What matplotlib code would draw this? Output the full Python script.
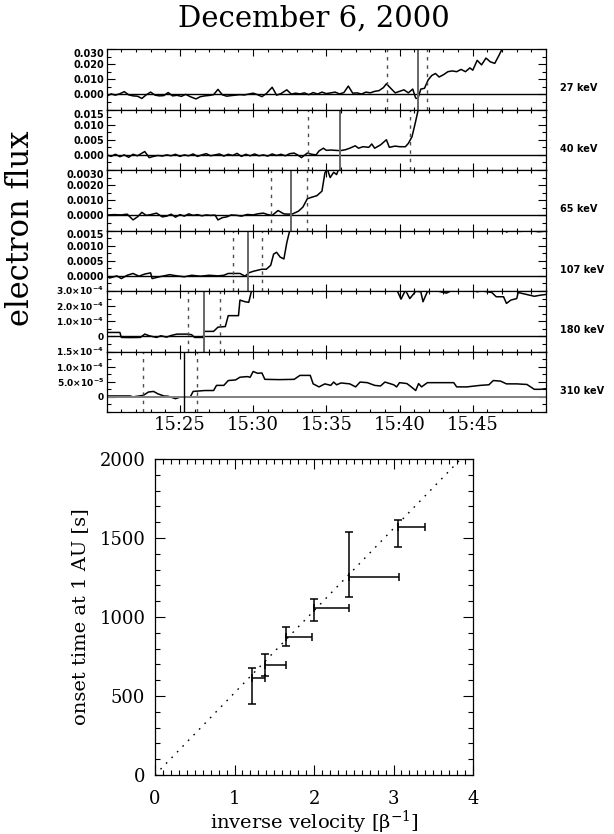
"""Electron onset analysis, December 6, 2000.

Stacked electron flux time profiles (six energy channels) with onset
markers, and the onset time vs inverse velocity plot below.
"""

import numpy as np
import matplotlib
matplotlib.use("Agg")
import matplotlib.pyplot as plt
from matplotlib.ticker import MultipleLocator

plt.rcParams["mathtext.fontset"] = "dejavusans"
plt.rcParams["mathtext.default"] = "regular"

# ---- top panels: minutes after 15:00 and flux values ----
channels = ["27 keV", "40 keV", "65 keV", "107 keV", "180 keV", "310 keV"]

t_27 = [20.0, 20.3, 20.6, 20.9, 21.2, 21.5, 21.8, 22.1, 22.4, 22.7, 23.0, 23.3, 23.6, 23.9,
        24.2, 24.5, 24.8, 25.1, 25.4, 25.7, 26.1, 26.4, 26.7, 27.0, 27.3, 27.6, 27.9, 28.2,
        28.5, 28.8, 29.1, 29.4, 29.7, 30.0, 30.3, 30.6, 30.9, 31.3, 31.6, 31.9, 32.3, 32.6,
        32.9, 33.2, 33.5, 33.8, 34.1, 34.4, 34.7, 35.0, 35.3, 35.6, 35.9, 36.2, 36.5, 36.8,
        37.1, 37.4, 37.7, 38.0, 38.3, 38.6, 38.9, 39.1, 39.4, 39.7, 40.0, 40.3, 40.6, 40.9,
        41.1, 41.25, 41.45, 41.7, 41.95, 42.2, 42.45, 42.7, 43.0, 43.3, 43.6, 43.9, 44.2,
        44.5, 44.8, 45.0, 45.3, 45.6, 45.9, 46.2, 46.5, 46.8, 47.1, 47.6, 48.0, 49.0, 50.0]
f_27 = [-1.2, 0.3, -0.5, 0.4, 1.8, -0.3, -1.0, -1.2, -2.7, -0.3, 1.5, -0.5, -1.0, -0.8,
        1.2, -1.0, -0.6, -1.3, 0.0, -1.5, -3.0, -1.5, -1.0, -0.7, -0.2, 3.3, -0.3, -1.2,
        -0.8, -0.5, -0.2, -0.4, 0.2, 0.8, -0.2, -1.5, 0.5, 4.7, -0.5, 0.5, 3.0, 0.2,
        0.8, 0.3, 1.0, -0.2, 1.2, 0.2, 1.5, 0.5, 1.0, 1.5, 0.3, 1.2, 5.5, 0.8,
        1.0, 0.2, 1.5, 1.0, 2.0, 2.5, 4.5, 7.0, 4.0, 1.0, 2.0, 3.0, 1.0, 3.5,
        -2.5, -2.8, 3.5, 4.0, 9.5, 12.5, 13.8, 11.5, 13.0, 15.0, 15.5, 15.0, 16.5,
        15.0, 17.5, 16.0, 22.5, 19.5, 24.0, 21.5, 20.5, 26.0, 32.0, 36.0, 40.0, 45.0, 50.0]

t_40 = [20.0, 20.3, 20.6, 20.9, 21.2, 21.5, 21.8, 22.1, 22.6, 22.9, 23.2, 23.5, 23.8, 24.1,
        24.4, 24.7, 25.0, 25.3, 25.6, 25.9, 26.2, 26.5, 26.8, 27.1, 27.4, 27.7, 28.0, 28.3,
        28.6, 28.9, 29.2, 29.5, 29.8, 30.1, 30.4, 30.7, 31.0, 31.3, 31.6, 31.9, 32.2, 32.5,
        32.8, 33.1, 33.3, 33.7, 34.0, 34.3, 34.5, 34.8, 35.0, 35.3, 35.6, 35.95, 36.3, 36.6,
        36.97, 37.2, 37.5, 37.9, 38.1, 38.3, 38.7, 39.1, 39.3, 39.7, 40.0, 40.4, 40.6, 40.85,
        41.07, 41.3, 41.6, 42.5, 50.0]
f_40 = [0.0, -0.5, 0.2, -0.6, 0.0, -0.8, 0.2, -0.3, 1.1, -0.9, -0.5, -0.2, -0.4, 0.0,
        -0.3, 0.2, -0.5, 0.0, -0.3, 0.3, -0.5, 0.0, 0.4, -0.3, 0.0, 0.3, -0.4, 0.2,
        -0.2, 0.5, -0.5, 0.2, -0.3, 0.3, -0.3, 0.0, -0.4, 0.3, -0.2, 0.2, -0.3, 0.4,
        0.6, -0.2, -0.9, 0.6, 0.2, 0.0, 1.3, 2.2, 1.5, 1.6, 1.5, 1.4, 1.7, 2.2,
        3.0, 2.2, 2.7, 2.5, 3.6, 2.2, 3.3, 5.0, 2.5, 2.9, 2.7, 2.7, 3.8, 6.0,
        10.5, 15.5, 20.0, 25.0, 40.0]

t_65 = [20.0, 20.5, 21.0, 21.4, 21.8, 22.1, 22.4, 22.7, 23.0, 23.4, 23.8, 24.1, 24.4, 24.7,
        25.0, 25.3, 25.6, 25.9, 26.2, 26.5, 26.8, 27.1, 27.4, 27.6, 27.9, 28.2, 28.5, 28.9,
        29.2, 29.6, 30.0, 30.3, 30.7, 31.0, 31.3, 31.7, 32.1, 32.4, 32.7, 33.1, 33.4, 33.7,
        34.0, 34.35, 34.7, 34.9, 35.05, 35.26, 35.5, 35.7, 35.9, 36.5, 50.0]
f_65 = [0.2, 0.5, 0.3, 0.8, -3.0, -1.0, 2.0, 0.0, 0.5, 1.5, -1.0, -0.5, 0.8, -1.2,
        0.5, -0.5, 1.0, 0.0, 0.5, -0.3, 0.3, 0.0, 0.2, -3.0, -1.5, -1.0, 0.3, 0.0,
        -0.5, 0.6, 0.3, 1.0, 1.5, 0.5, 0.0, 3.2, 1.0, 0.8, 1.0, 2.8, 5.5, 11.0,
        12.0, 13.0, 16.0, 28.0, 31.0, 25.0, 28.5, 27.0, 32.0, 40.0, 60.0]

t_107 = [20.0, 20.2, 20.7, 21.0, 21.4, 21.8, 22.2, 22.6, 23.0, 23.1, 23.6, 24.3, 24.8, 25.3,
         25.8, 26.4, 27.0, 27.6, 28.0, 28.3, 29.1, 29.45, 29.7, 30.0, 30.6, 30.9, 31.2, 31.4,
         31.6, 31.85, 32.1, 32.3, 32.5, 32.7, 40.0, 47.0, 47.3, 47.8, 48.2, 48.6, 49.0, 49.5,
         50.0]
f_107 = [0.0, -0.7, 0.0, -0.9, 0.2, 0.8, -0.1, 0.6, 1.0, -0.9, -0.3, 0.4, 0.0, -0.3,
         0.2, -0.1, 0.2, 0.0, 0.2, 0.8, 0.8, -0.1, 1.0, 1.5, 2.2, 2.2, 3.5, 7.2,
         7.8, 6.2, 5.6, 11.0, 15.0, 19.0, 25.0, 25.0, 14.5, 15.5, 14.7, 14.8, 14.9, 14.6,
         14.8]

t_180 = [20.0, 20.9, 21.0, 21.6, 22.3, 22.6, 22.9, 23.4, 23.7, 24.1, 24.4, 24.8, 25.5, 25.8,
         26.0, 26.6, 26.65, 27.3, 27.6, 28.1, 28.3, 29.0, 29.1, 29.45, 29.7, 29.9, 30.2, 39.0,
         39.8, 40.1, 40.4, 40.7, 41.1, 41.45, 41.6, 41.9, 42.5, 43.2, 43.5, 44.5, 45.1, 45.3,
         45.6, 46.3, 46.6, 47.1, 47.3, 47.6, 48.0, 48.1, 48.9, 49.2, 49.6, 50.0]
f_180 = [2.6, 2.6, -0.7, -0.8, -0.7, 1.5, 0.4, -0.7, 0.4, -0.5, 0.6, 1.5, 1.5, 1.1,
         -0.7, -0.7, 3.3, 3.3, 6.1, 6.5, 13.7, 13.7, 24.0, 22.9, 22.5, 30.5, 40.0, 40.0,
         31.0, 24.6, 30.5, 25.0, 29.8, 29.5, 22.9, 29.6, 30.2, 28.6, 30.0, 30.0, 30.2, 29.5,
         30.1, 29.0, 26.2, 26.2, 21.8, 24.0, 25.0, 29.0, 27.2, 26.5, 27.2, 27.7]

t_310 = [20.0, 21.0, 21.6, 21.8, 22.5, 22.85, 23.2, 23.5, 23.9, 24.2, 24.7, 25.0, 25.7, 25.9,
         26.7, 27.3, 27.5, 28.0, 28.3, 28.8, 29.1, 29.6, 29.8, 30.0, 30.3, 30.6, 30.8, 31.8,
         32.8, 33.2, 33.9, 34.1, 34.5, 34.9, 35.3, 35.5, 35.7, 36.0, 36.6, 37.0, 37.3, 37.8,
         38.3, 38.7, 39.0, 39.6, 39.8, 40.0, 40.5, 40.8, 41.1, 41.3, 41.5, 41.9, 42.3, 43.7,
         43.9, 44.6, 45.5, 46.1, 46.4, 46.9, 47.3, 48.0, 48.7, 49.2, 49.6, 50.0]
f_310 = [0.3, 0.3, 0.3, 0.0, 0.5, 1.6, 1.8, 1.0, 0.3, 0.2, -0.6, -0.1, -0.1, 1.8,
         2.1, 2.1, 3.8, 3.8, 5.4, 5.6, 6.5, 6.7, 6.5, 8.4, 7.8, 7.9, 5.8, 5.7,
         5.8, 7.1, 7.1, 4.3, 3.3, 4.3, 3.8, 4.9, 4.0, 4.6, 4.3, 3.3, 4.9, 4.7,
         3.8, 3.6, 4.9, 4.0, 3.3, 4.7, 4.4, 3.3, 2.1, 4.4, 3.3, 4.7, 4.7, 4.7,
         3.3, 3.3, 3.8, 4.0, 5.4, 5.2, 4.3, 4.3, 4.1, 2.5, 2.5, 2.7]

# units the lists above are written in
flux_units = [1e-3, 1e-3, 1e-4, 1e-4, 1e-5, 1e-5]

# onset (solid) and its earliest / latest limits (dashed), minutes after 15:00
onset = [41.23, 35.95, 32.60, 29.64, 26.65, 25.30]
onset_lo = [39.14, 33.74, 31.23, 28.63, 25.53, 22.50]
onset_hi = [41.89, 40.73, 33.69, 30.59, 27.74, 26.19]

# y ranges and tick labels of each panel
y_ranges = [(-0.01, 0.03), (-0.005, 0.015), (-0.001, 0.003),
            (-0.0005, 0.0015), (-1e-4, 3e-4), (-5e-5, 1.5e-4)]
y_ticks = [[0.0, 0.01, 0.02, 0.03], [0.0, 0.005, 0.010, 0.015],
           [0.0, 0.001, 0.002, 0.003], [0.0, 0.0005, 0.0010, 0.0015],
           [0.0, 1e-4, 2e-4, 3e-4], [0.0, 5e-5, 1e-4, 1.5e-4]]
y_ticklabels = [["0.000", "0.010", "0.020", "0.030"],
                ["0.000", "0.005", "0.010", "0.015"],
                ["0.0000", "0.0010", "0.0020", "0.0030"],
                ["0.0000", "0.0005", "0.0010", "0.0015"],
                ["0", r"1.0$\times$10$^{-4}$", r"2.0$\times$10$^{-4}$", r"3.0$\times$10$^{-4}$"],
                ["0", r"5.0$\times$10$^{-5}$", r"1.0$\times$10$^{-4}$", r"1.5$\times$10$^{-4}$"]]
time_ticks = [25, 30, 35, 40, 45]
time_labels = ["15:25", "15:30", "15:35", "15:40", "15:45"]

# ---- bottom panel: onset time vs inverse velocity ----
inv_beta = [1.22, 1.384, 1.645, 1.996, 2.434, 3.06]
inv_beta_err = [0.16, 0.26, 0.33, 0.44, 0.63, 0.34]
onset_s = [616, 696, 875, 1055, 1255, 1571]
onset_err_lo = [167, 68, 59, 80, 130, 126]
onset_err_hi = [61, 67, 59, 61, 285, 43]
path_slope = 520.0  # s per unit of 1/beta

W, H = 614.0, 834.0
serif = "DejaVu Serif"
sans = "DejaVu Sans"

fig = plt.figure(figsize=(W / 100, H / 100), dpi=100)

fig.text(314 / W, 1 - 19 / H, "December 6, 2000", family=serif, fontsize=21,
         ha="center", va="center")
fig.text(21 / W, 1 - 228 / H, "electron flux", family=serif, fontsize=22,
         rotation=90, ha="center", va="center")

left, right = 106.7, 546.0
top0, ph = 49.0, 60.5
series = [(t_27, f_27), (t_40, f_40), (t_65, f_65),
          (t_107, f_107), (t_180, f_180), (t_310, f_310)]

for i, (tt, ff) in enumerate(series):
    ax = fig.add_axes([left / W, 1 - (top0 + ph * (i + 1)) / H, (right - left) / W, ph / H])
    flux = np.array(ff) * flux_units[i]
    ax.plot(tt, flux, color="k", lw=1.1)
    zc = "0.5" if i == 5 else "k"
    ax.axhline(0, color=zc, lw=1.4 if i == 5 else 1.0)
    ax.axvline(onset[i], color="k" if i == 5 else "0.4", lw=1.0 if i == 5 else 1.4)
    for tv in (onset_lo[i], onset_hi[i]):
        ax.axvline(tv, color="0.3", lw=1.0, ls=(0, (2.5, 3.5)))

    ax.set_xlim(20, 50)
    ax.set_ylim(*y_ranges[i])
    ax.set_xticks(time_ticks)
    ax.xaxis.set_minor_locator(MultipleLocator(1))
    if i == 5:
        ax.set_xticklabels(time_labels, family=serif, fontsize=13)
    else:
        ax.set_xticklabels([])
    ax.set_yticks(y_ticks[i])
    ax.set_yticklabels(y_ticklabels[i], family=sans, fontweight="bold",
                       fontsize=7 if i < 4 else 6.5)
    # IDL pulls the top label down inside the panel
    ax.get_yticklabels()[-1].set_va("top" if i < 4 else "center")
    ax.yaxis.set_minor_locator(MultipleLocator(y_ticks[i][1] / 2))
    ax.tick_params(which="both", direction="in", top=True, right=True, width=0.8)
    ax.tick_params(axis="x", which="major", length=5, pad=3)
    ax.tick_params(axis="x", which="minor", length=2.5)
    ax.tick_params(axis="y", which="major", length=6, pad=2)
    ax.tick_params(axis="y", which="minor", length=3)
    for sp in ax.spines.values():
        sp.set_linewidth(0.9)
    ax.text(1 + 14 / (right - left), 0.35, channels[i], transform=ax.transAxes,
            family=sans, fontweight="bold", fontsize=7, ha="left", va="center")

# bottom plot
bx = fig.add_axes([155 / W, 1 - 775 / H, 318 / W, 316 / H])
line_x = np.array([0.0, 4.0])
bx.plot(line_x, path_slope * line_x, color="k", lw=1.0, ls=(0, (1.2, 4.5)))
bx.errorbar(inv_beta, onset_s,
            xerr=[np.zeros(len(inv_beta)), inv_beta_err],
            yerr=[onset_err_lo, onset_err_hi],
            fmt="none", ecolor="k", elinewidth=1.1, capsize=3, capthick=1.1)
bx.set_xlim(0, 4)
bx.set_ylim(0, 2000)
bx.set_xticks([0, 1, 2, 3, 4])
bx.set_yticks([0, 500, 1000, 1500, 2000])
bx.xaxis.set_minor_locator(MultipleLocator(0.1))
bx.yaxis.set_minor_locator(MultipleLocator(100))
bx.tick_params(which="both", direction="in", top=True, right=True, width=0.8,
               labelsize=13)
bx.tick_params(which="major", length=7)
bx.tick_params(which="minor", length=3.5)
bx.tick_params(axis="x", pad=11)
bx.tick_params(axis="y", pad=7)
for lab in bx.get_xticklabels() + bx.get_yticklabels():
    lab.set_family(serif)
for sp in bx.spines.values():
    sp.set_linewidth(0.9)
bx.set_xlabel(r"inverse velocity [$\beta^{-1}$]", family=serif, fontsize=14, va="center")
bx.xaxis.set_label_coords(0.5, -(822 - 775) / 316)
bx.set_ylabel("onset time at 1 AU [s]", family=serif, fontsize=14, va="center")
bx.yaxis.set_label_coords(-(155 - 80) / 318, 0.5)

fig.savefig("out.png", dpi=100)
